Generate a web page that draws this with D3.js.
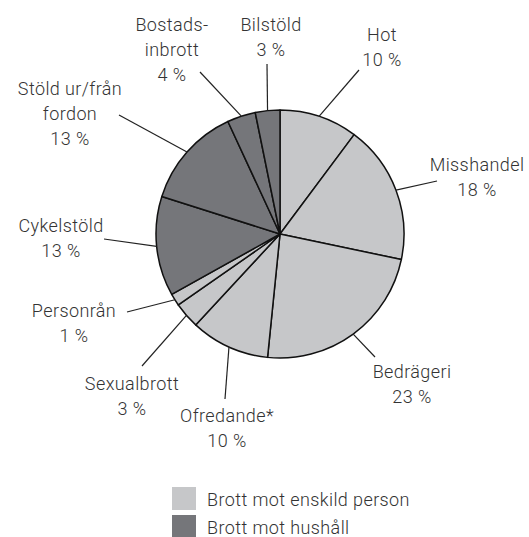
<!DOCTYPE html>
<html>
<head>
<meta charset="utf-8">
<script src="https://cdnjs.cloudflare.com/ajax/libs/d3/7.8.5/d3.min.js"></script>
<style>
	body { margin: 0; background: #fff; }
	#chart text { font-family: Roboto, "Liberation Sans", sans-serif; font-weight: 300; font-size: 18px; letter-spacing: 0.4px; fill: #333; }
</style>
</head>
<body>
<div id="chart"></div>
<script>

// slices, clockwise from 12 o'clock
var categories = ["Hot", "Misshandel", "Bedrägeri", "Ofredande*", "Sexualbrott", "Personrån", "Cykelstöld", "Stöld ur/från fordon", "Bostadsinbrott", "Bilstöld"];
var labelLines = [["Hot", "10 %"], ["Misshandel", "18 %"], ["Bedrägeri", "23 %"], ["Ofredande*", "10 %"], ["Sexualbrott", "3 %"], ["Personrån", "1 %"], ["Cykelstöld", "13 %"], ["Stöld ur/från", "fordon", "13 %"], ["Bostads-", "inbrott", "4 %"], ["Bilstöld", "3 %"]];
var shares = [10.2, 18.1, 23.3, 10.3, 3.4, 1.6, 13.0, 13.2, 3.7, 3.2];
var groups = ["person", "person", "person", "person", "person", "person", "hushall", "hushall", "hushall", "hushall"];

var legendGroups = ["person", "hushall"];
var legendLabels = ["Brott mot enskild person", "Brott mot hushåll"];


// where each label sits: text centre x, first baseline y, leader end x/y
var labelLayout = [
	{ x: 382, y: 41,  lx: 359, ly: 70 },
	{ x: 477, y: 171, lx: 437, ly: 181 },
	{ x: 412, y: 378, lx: 375, ly: 357 },
	{ x: 227, y: 422, lx: 225, ly: 399 },
	{ x: 132, y: 390, lx: 142, ly: 366 },
	{ x: 74,  y: 317, lx: 127, ly: 312 },
	{ x: 61,  y: 232, lx: 104, ly: 239 },
	{ x: 70,  y: 95,  lx: 119, ly: 115 },
	{ x: 172, y: 31,  lx: 200, ly: 72 },
	{ x: 271, y: 31,  lx: 267, ly: 64 }
];


drawPie();


function drawPie() {
	var width = 529,
		height = 537,
		cx = 280,
		cy = 234,
		radius = 124,
		lineHeight = 25;

	var color = d3.scaleOrdinal()
		.domain(legendGroups)
		.range(["#c6c7c9", "#75767a"]);

	var svg = d3.select("#chart").append("svg")
		.attr("width", width)
		.attr("height", height);

	var pieData = d3.pie()
		.sort(null)
		.value(function(d) { return d; })(shares);

	var arc = d3.arc()
		.innerRadius(0)
		.outerRadius(radius);

	var pie = svg.append("g")
		.attr("transform", "translate(" + cx + "," + cy + ")");

	pie.selectAll("path")
		.data(pieData)
		.enter()
		.append("path")
		.attr("d", arc)
		.attr("fill", function(d, i) { return color(groups[i]); })
		.attr("stroke", "#111")
		.attr("stroke-width", 1.5)
		.attr("stroke-linejoin", "round");

	// leader lines from the middle of each slice's rim out to its label
	svg.selectAll("line.leader")
		.data(pieData)
		.enter()
		.append("line")
		.attr("class", "leader")
		.attr("x1", function(d) { return cx + radius * Math.sin((d.startAngle + d.endAngle) / 2); })
		.attr("y1", function(d) { return cy - radius * Math.cos((d.startAngle + d.endAngle) / 2); })
		.attr("x2", function(d, i) { return labelLayout[i].lx; })
		.attr("y2", function(d, i) { return labelLayout[i].ly; })
		.attr("stroke", "#222")
		.attr("stroke-width", 1.2);

	var labels = svg.selectAll("text.slice-label")
		.data(categories)
		.enter()
		.append("text")
		.attr("class", "slice-label")
		.attr("text-anchor", "middle")
		.attr("x", function(d, i) { return labelLayout[i].x; })
		.attr("y", function(d, i) { return labelLayout[i].y; });

	labels.each(function(d, i) {
		var t = d3.select(this);
		labelLines[i].forEach(function(line, j) {
			t.append("tspan")
				.attr("x", labelLayout[i].x)
				.attr("dy", j == 0 ? 0 : lineHeight)
				.text(line);
		});
	});

	// legend
	var legend = svg.append("g")
		.attr("transform", "translate(172,487)");

	var item = legend.selectAll("g")
		.data(legendGroups)
		.enter()
		.append("g")
		.attr("transform", function(d, i) { return "translate(0," + (i * 28) + ")"; });

	item.append("rect")
		.attr("width", 24)
		.attr("height", 23)
		.attr("fill", function(d) { return color(d); });

	item.append("text")
		.attr("x", 35)
		.attr("y", 19)
		.text(function(d, i) { return legendLabels[i]; });
}
</script>
</body>
</html>
